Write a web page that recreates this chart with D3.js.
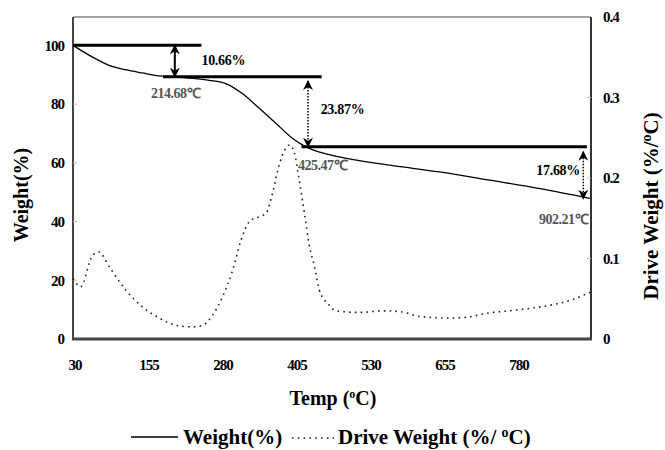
<!DOCTYPE html>
<html>
<head>
<meta charset="utf-8">
<script src="https://cdn.jsdelivr.net/npm/d3@7"></script>
<style>
  body { margin: 0; background: #fff; }
  text { font-family: "Liberation Serif", "Times New Roman", serif; }
</style>
</head>
<body>
<svg width="665" height="450"></svg>
<script>
// TGA curve (weight %)
const weightTemp = [30, 63, 91, 119, 147, 175, 200, 230, 260, 288, 316, 345, 373, 401, 424, 429, 480, 565, 649, 734, 819, 903];
const weightVal = [100, 96, 93.2, 91.7, 90.6, 89.6, 89.3, 88.8, 88.1, 87, 83.6, 78.5, 73.4, 68.3, 65.4, 64.9, 62, 59.2, 56.9, 54.1, 51.2, 47.9];

// DTG curve (%/°C)
const driveTemp = [30, 43, 63, 74, 91, 119, 147, 176, 204, 232, 249, 266, 283, 300, 314, 328, 345, 356, 367, 379, 396, 404, 412, 421, 429, 438, 446, 463, 474, 514, 553, 582, 616, 666, 695, 729, 779, 836, 870, 903];
const driveVal = [0.075, 0.065, 0.104, 0.108, 0.09, 0.061, 0.040, 0.026, 0.017, 0.015, 0.017, 0.030, 0.053, 0.086, 0.123, 0.146, 0.152, 0.156, 0.181, 0.218, 0.241, 0.231, 0.198, 0.156, 0.117, 0.09, 0.061, 0.042, 0.035, 0.033, 0.035, 0.034, 0.028, 0.026, 0.027, 0.032, 0.036, 0.042, 0.048, 0.058];

const xTicks = [30, 155, 280, 405, 530, 655, 780];
const yTicks = [0, 20, 40, 60, 80, 100];
const y2Ticks = [0, 0.1, 0.2, 0.3, 0.4];

// weight-loss steps
const stepLoss = [10.66, 23.87, 17.68];
const stepTemp = ["214.68", "425.47", "902.21"];

const svg = d3.select("svg");
const pLeft = 73, pRight = 591, pTop = 17, pBottom = 339;

const x = d3.scaleLinear().domain([30, 905]).range([pLeft, pRight]);
const y = d3.scaleLinear().domain([0, 110]).range([pBottom, pTop - 1]);
const y2 = d3.scaleLinear().domain([0, 0.4]).range([pBottom, pTop]);

// frame
svg.append("line").attr("x1", pLeft).attr("x2", pRight).attr("y1", pTop).attr("y2", pTop)
  .attr("stroke", "#444").attr("stroke-width", 1);
svg.append("line").attr("x1", pRight).attr("x2", pRight).attr("y1", pTop).attr("y2", pBottom)
  .attr("stroke", "#333").attr("stroke-width", 2);
svg.append("line").attr("x1", pLeft).attr("x2", pLeft).attr("y1", pTop).attr("y2", pBottom)
  .attr("stroke", "#444").attr("stroke-width", 2);
svg.append("line").attr("x1", pLeft - 1).attr("x2", pRight + 1).attr("y1", pBottom).attr("y2", pBottom)
  .attr("stroke", "#444").attr("stroke-width", 3);

// inner ticks
svg.append("g").selectAll("line").data(yTicks.slice(1)).join("line")
  .attr("x1", pLeft).attr("x2", pLeft + 4).attr("y1", d => y(d)).attr("y2", d => y(d))
  .attr("stroke", "#bbb");
svg.append("g").selectAll("line").data(y2Ticks.slice(1, -1)).join("line")
  .attr("x1", pRight - 4).attr("x2", pRight).attr("y1", d => y2(d)).attr("y2", d => y2(d))
  .attr("stroke", "#bbb");

// tick labels
const tickFont = g => g.attr("font-size", 15).attr("font-weight", "bold").attr("letter-spacing", -1);
svg.append("g").call(tickFont).selectAll("text").data(yTicks).join("text")
  .attr("x", 64).attr("y", d => y(d)).attr("dy", "0.35em").attr("text-anchor", "end")
  .text(d => d);
svg.append("g").call(tickFont).selectAll("text").data(y2Ticks).join("text")
  .attr("x", 603).attr("y", d => y2(d)).attr("dy", "0.35em")
  .text(d => d === 0 ? "0" : d.toFixed(1));
svg.append("g").call(tickFont).selectAll("text").data(xTicks).join("text")
  .attr("x", d => x(d) + 2).attr("y", 365).attr("dy", "0.35em").attr("text-anchor", "middle")
  .text(d => d);

// axis titles
svg.append("text").attr("transform", "translate(28,195) rotate(-90)")
  .attr("text-anchor", "middle").attr("font-size", 20).attr("font-weight", "bold")
  .text("Weight(%)");
const rt = svg.append("text").attr("transform", "translate(658,206) rotate(-90)")
  .attr("text-anchor", "middle").attr("font-size", 21).attr("font-weight", "bold");
rt.append("tspan").text("Drive Weight (%/");
rt.append("tspan").attr("dy", -7).attr("font-size", 14).text("o");
rt.append("tspan").attr("dy", 7).text("C)");
const xt = svg.append("text").attr("x", 333).attr("y", 405)
  .attr("text-anchor", "middle").attr("font-size", 20).attr("font-weight", "bold");
xt.append("tspan").text("Temp (");
xt.append("tspan").attr("dy", -7).attr("font-size", 12).text("o");
xt.append("tspan").attr("dy", 7).text("C)");

// curves
const wData = weightTemp.map((t, i) => [t, weightVal[i]]);
const dData = driveTemp.map((t, i) => [t, driveVal[i]]);

svg.append("path").datum(dData)
  .attr("fill", "none").attr("stroke", "#222").attr("stroke-width", 1.6)
  .attr("stroke-dasharray", "1.6,4.2")
  .attr("d", d3.line().x(d => x(d[0])).y(d => y2(d[1])).curve(d3.curveMonotoneX));

svg.append("path").datum(wData)
  .attr("fill", "none").attr("stroke", "#000").attr("stroke-width", 1.3)
  .attr("d", d3.line().x(d => x(d[0])).y(d => y(d[1])).curve(d3.curveMonotoneX));

// step levels
const levels = [100];
stepLoss.forEach(v => levels.push(levels[levels.length - 1] - v));

const hLines = [[30, 247, levels[0]], [182, 450, levels[1]], [416, 898, levels[2]]];
svg.append("g").selectAll("line").data(hLines).join("line")
  .attr("x1", d => x(d[0])).attr("x2", d => x(d[1]))
  .attr("y1", d => y(d[2])).attr("y2", d => y(d[2]))
  .attr("stroke", "#000").attr("stroke-width", 3);

// double arrows
const defs = svg.append("defs");
defs.append("marker").attr("id", "ah").attr("viewBox", "0 0 10 10")
  .attr("refX", 9).attr("refY", 5).attr("markerWidth", 10).attr("markerHeight", 10)
  .attr("markerUnits", "userSpaceOnUse").attr("orient", "auto-start-reverse")
  .append("path").attr("d", "M0,0 L10,5 L0,10 L3,5 Z").attr("fill", "#000");

const arrows = [
  { t: 202, a: levels[0], b: levels[1], dash: null },
  { t: 427, a: levels[1] - 1.5, b: levels[2], dash: "1.5,1.5" },
  { t: 892, a: levels[2] - 1.7, b: levels[3], dash: "1.5,1.5" }
];
svg.append("g").selectAll("line").data(arrows).join("line")
  .attr("x1", d => x(d.t)).attr("x2", d => x(d.t))
  .attr("y1", d => y(d.a)).attr("y2", d => y(d.b))
  .attr("stroke", "#000").attr("stroke-width", d => d.dash ? 1.5 : 2)
  .attr("stroke-dasharray", d => d.dash)
  .attr("marker-start", "url(#ah)").attr("marker-end", "url(#ah)");

// labels
const pct = [
  { x: x(247), y: 65, anchor: "start" },
  { x: x(450) - 1, y: 114, anchor: "start" },
  { x: 580, y: 175, anchor: "end" }
];
svg.append("g").selectAll("text").data(stepLoss).join("text")
  .attr("x", (d, i) => pct[i].x).attr("y", (d, i) => pct[i].y)
  .attr("text-anchor", (d, i) => pct[i].anchor)
  .attr("font-size", 14).attr("font-weight", "bold").attr("letter-spacing", -0.3)
  .text(d => d3.format(".2f")(d) + "%");

const tl = [
  { x: 151, y: 98, anchor: "start" },
  { x: 298, y: 170, anchor: "start" },
  { x: 588, y: 224, anchor: "end" }
];
svg.append("g").selectAll("text").data(stepTemp).join("text")
  .attr("x", (d, i) => tl[i].x).attr("y", (d, i) => tl[i].y)
  .attr("text-anchor", (d, i) => tl[i].anchor)
  .attr("font-size", 14).attr("font-weight", "bold").attr("fill", "#555").attr("letter-spacing", -0.5)
  .text(d => d + "\u2103");

// legend
const lg = svg.append("g");
lg.append("line").attr("x1", 131).attr("x2", 178).attr("y1", 437).attr("y2", 437)
  .attr("stroke", "#000").attr("stroke-width", 1.3);
lg.append("text").attr("x", 183).attr("y", 444).attr("font-size", 21).attr("font-weight", "bold")
  .text("Weight(%)");
lg.append("line").attr("x1", 292).attr("x2", 334).attr("y1", 438).attr("y2", 438)
  .attr("stroke", "#222").attr("stroke-width", 1.6).attr("stroke-dasharray", "1.6,4.2");
const lt = lg.append("text").attr("x", 338).attr("y", 444).attr("font-size", 21).attr("font-weight", "bold");
lt.append("tspan").text("Drive Weight (%/ ");
lt.append("tspan").attr("dy", -7).attr("font-size", 14).text("o");
lt.append("tspan").attr("dy", 7).text("C)");
</script>
</body>
</html>
